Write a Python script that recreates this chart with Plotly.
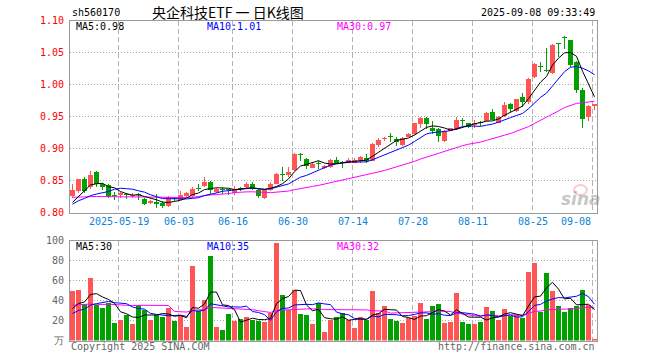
import plotly.graph_objects as go
import pandas as pd
import numpy as np

W, H = 660, 360

# ---------------- data ----------------
dates = [d.strftime("%Y-%m-%d") for d in pd.bdate_range("2025-05-07", "2025-09-08")
         if d.strftime("%Y-%m-%d") != "2025-06-02"]

open_ = [0.8260, 0.8339, 0.8531, 0.8401, 0.8635, 0.8443, 0.8432, 0.8266, 0.8271, 0.8276,
         0.8255, 0.8276, 0.8208, 0.8146, 0.8167, 0.8141, 0.8104, 0.8234, 0.8198, 0.8260,
         0.8260, 0.8370, 0.8417, 0.8479, 0.8328, 0.8359, 0.8354, 0.8297, 0.8380, 0.8391,
         0.8453, 0.8354, 0.8234, 0.8349, 0.8453, 0.8594, 0.8589, 0.8667, 0.8901, 0.8833,
         0.8703, 0.8760, 0.8693, 0.8714, 0.8828, 0.8776, 0.8781, 0.8781, 0.8797, 0.8849,
         0.8807, 0.9057, 0.9141, 0.9177, 0.9146, 0.9057, 0.9182, 0.9224, 0.9380, 0.9484,
         0.9313, 0.9302, 0.9120, 0.9276, 0.9302, 0.9438, 0.9391, 0.9365, 0.9411, 0.9432,
         0.9573, 0.9406, 0.9510, 0.9703, 0.9589, 0.9797, 0.9719, 1.0120, 1.0281, 1.0219,
         1.0172, 1.0635, 1.0740, 1.0693, 1.0344, 0.9911, 0.9495, 0.9667]
high = [0.8443, 0.8531, 0.8547, 0.8641, 0.8646, 0.8458, 0.8443, 0.8313, 0.8328, 0.8302,
        0.8297, 0.8297, 0.8234, 0.8198, 0.8286, 0.8182, 0.8260, 0.8250, 0.8339, 0.8313,
        0.8391, 0.8453, 0.8557, 0.8490, 0.8380, 0.8391, 0.8375, 0.8417, 0.8401, 0.8484,
        0.8469, 0.8365, 0.8365, 0.8469, 0.8615, 0.8714, 0.8714, 0.8922, 0.8922, 0.8844,
        0.8771, 0.8807, 0.8745, 0.8833, 0.8870, 0.8807, 0.8859, 0.8844, 0.8885, 0.8911,
        0.9089, 0.9161, 0.9172, 0.9250, 0.9172, 0.9182, 0.9250, 0.9406, 0.9495, 0.9495,
        0.9422, 0.9313, 0.9286, 0.9328, 0.9495, 0.9484, 0.9406, 0.9443, 0.9422, 0.9573,
        0.9615, 0.9510, 0.9734, 0.9714, 0.9781, 0.9875, 1.0094, 1.0333, 1.0344, 1.0568,
        1.0630, 1.0641, 1.0760, 1.0703, 1.0370, 0.9943, 0.9682, 0.9693]
low = [0.8234, 0.8297, 0.8302, 0.8365, 0.8401, 0.8359, 0.8234, 0.8198, 0.8234, 0.8208,
       0.8234, 0.8193, 0.8115, 0.8130, 0.8078, 0.8078, 0.8089, 0.8182, 0.8188, 0.8245,
       0.8234, 0.8339, 0.8401, 0.8286, 0.8302, 0.8286, 0.8276, 0.8276, 0.8339, 0.8365,
       0.8349, 0.8224, 0.8208, 0.8339, 0.8443, 0.8495, 0.8547, 0.8651, 0.8807, 0.8677,
       0.8688, 0.8677, 0.8677, 0.8703, 0.8755, 0.8693, 0.8766, 0.8766, 0.8781, 0.8781,
       0.8797, 0.9031, 0.9120, 0.9094, 0.9042, 0.9042, 0.9172, 0.9214, 0.9328, 0.9302,
       0.9234, 0.9104, 0.9109, 0.9266, 0.9292, 0.9354, 0.9318, 0.9328, 0.9354, 0.9422,
       0.9443, 0.9391, 0.9495, 0.9578, 0.9578, 0.9641, 0.9703, 1.0109, 1.0188, 1.0203,
       1.0161, 1.0422, 1.0552, 1.0276, 0.9875, 0.9328, 0.9432, 0.9599]
close = [0.8354, 0.8521, 0.8339, 0.8589, 0.8443, 0.8391, 0.8250, 0.8260, 0.8297, 0.8271,
         0.8281, 0.8271, 0.8130, 0.8182, 0.8130, 0.8099, 0.8245, 0.8208, 0.8276, 0.8297,
         0.8375, 0.8365, 0.8479, 0.8349, 0.8365, 0.8354, 0.8349, 0.8375, 0.8375, 0.8453,
         0.8375, 0.8260, 0.8349, 0.8453, 0.8599, 0.8589, 0.8635, 0.8911, 0.8896, 0.8729,
         0.8755, 0.8755, 0.8729, 0.8818, 0.8771, 0.8771, 0.8823, 0.8818, 0.8870, 0.8807,
         0.9078, 0.9130, 0.9161, 0.9172, 0.9094, 0.9161, 0.9234, 0.9391, 0.9484, 0.9380,
         0.9276, 0.9188, 0.9276, 0.9318, 0.9443, 0.9432, 0.9339, 0.9401, 0.9406, 0.9557,
         0.9453, 0.9495, 0.9682, 0.9625, 0.9771, 0.9734, 1.0083, 1.0318, 1.0276, 1.0214,
         1.0620, 1.0630, 1.0734, 1.0307, 0.9911, 0.9458, 0.9667, 0.9693]
volume = [49.3, 50.3, 37, 62.7, 35.3, 32.3, 38, 17.7, 20.3, 25.3,
          16.3, 35.3, 30.3, 20.3, 25.3, 23.7, 32.7, 19.3, 24.7, 13.3,
          74.7, 29.3, 40.3, 84.3, 13.7, 10.3, 26.3, 19.7, 22, 23.3,
          20.3, 19.7, 18.7, 28, 97.7, 45.3, 30.3, 50.3, 26.3, 25.3,
          16.7, 37.3, 8.7, 20.7, 23.3, 27.7, 21, 12.7, 23.3, 21,
          49.3, 28, 34.3, 21.3, 19.3, 17.3, 22.7, 24.7, 38, 21.3,
          34.3, 36.3, 17.3, 18.3, 47.3, 18.3, 16.3, 16.3, 18.3, 33.3,
          29.3, 20.3, 31.3, 25, 25.3, 22.3, 68.3, 77.3, 28.7, 67.3,
          49.3, 34.3, 28.3, 32.3, 34.3, 50.3, 36, 2]

# closes / volumes of the 29 sessions before the window (estimated from the MA lines)
prior_close = [0.835, 0.838, 0.840, 0.836, 0.842, 0.835, 0.830, 0.828, 0.832, 0.826,
               0.830, 0.826, 0.824, 0.822, 0.825, 0.820, 0.823, 0.826, 0.824, 0.820,
               0.798, 0.799, 0.815, 0.818, 0.8206, 0.805, 0.790, 0.814, 0.835]
prior_volume = [30, 32, 55, 50, 30, 28, 30, 35, 28, 30, 25, 30, 22, 28, 30, 28, 199, 30, 25, 24,
                20, 24, 22, 21, 23, 25.3, 29.5, 25.2, 30.7]

price_ticks = [0.80, 0.85, 0.90, 0.95, 1.00, 1.05, 1.10]
vol_ticks = [0, 20, 40, 60, 80, 100]
vol_tick_text = ["万", "20", "40", "60", "80", "100"]
date_labels = ["2025-05-19", "2025-06-03", "2025-06-16", "2025-06-30", "2025-07-14",
               "2025-07-28", "2025-08-11", "2025-08-25", "2025-09-08"]
date_label_text = ["2025-05-19", "06-03", "06-16", "06-30", "07-14", "07-28", "08-11", "08-25", "09-08"]

price_ma_text = ["MA5:0.98", "MA10:1.01", "MA30:0.97"]
vol_ma_text = ["MA5:30", "MA10:35", "MA30:32"]

# ---------------- derived ----------------
n = len(close)
idx = list(range(n))
RED, GREEN = "#ff5555", "#00a000"
MA_COL = ["#000000", "#0000ff", "#ff00ff"]
colors = [RED if c >= o else GREEN for o, c in zip(open_, close)]

def mov_avg(prior, vals, k):
    full = np.array(prior + vals, dtype=float)
    p = len(prior)
    return [float(full[p + i - k + 1:p + i + 1].mean()) for i in range(len(vals))]

pma = [mov_avg(prior_close, close, k) for k in (5, 10, 30)]
vma = [mov_avg(prior_volume, volume, k) for k in (5, 10, 30)]

min_body = 1.0 / 640
body_base = [min(o, c) for o, c in zip(open_, close)]
body_h = [max(abs(c - o), min_body) for o, c in zip(open_, close)]
wick_h = [h - l for h, l in zip(high, low)]

grid_x = [dates.index(d) - 1 / 3 for d in date_labels]

def px(x):
    return x / W

def py(y):
    return 1 - y / H

X0, X1 = -2.5 / 6, (597 - 72.5) / 6

fig = go.Figure()
fig.add_trace(go.Bar(x=idx, y=wick_h, base=low, width=1 / 6, marker=dict(color=colors, line=dict(width=0)),
                     hoverinfo="skip", xaxis="x", yaxis="y"))
fig.add_trace(go.Bar(x=idx, y=body_h, base=body_base, width=5 / 6, marker=dict(color=colors, line=dict(width=0)),
                     hoverinfo="skip", xaxis="x", yaxis="y"))
for k in (2, 1, 0):
    fig.add_trace(go.Scatter(x=idx, y=pma[k], mode="lines", line=dict(color=MA_COL[k], width=1),
                             hoverinfo="skip", xaxis="x", yaxis="y"))
fig.add_trace(go.Bar(x=idx, y=volume, width=5 / 6, marker=dict(color=colors, line=dict(width=0)),
                     hoverinfo="skip", xaxis="x2", yaxis="y2"))
for k in (2, 1, 0):
    fig.add_trace(go.Scatter(x=idx, y=vma[k], mode="lines", line=dict(color=MA_COL[k], width=1),
                             hoverinfo="skip", xaxis="x2", yaxis="y2"))

BORDER = "#9a9a9a"
common_x = dict(domain=[px(70), px(597)], range=[X0, X1], tickvals=grid_x, showticklabels=False,
                showgrid=True, gridcolor="#b4b4b4", griddash="5px,3px", gridwidth=1,
                showline=True, mirror=True, linecolor=BORDER, linewidth=1, zeroline=False,
                ticks="", fixedrange=True)
fig.update_layout(
    width=W, height=H, margin=dict(l=0, r=0, t=0, b=0),
    paper_bgcolor="white", plot_bgcolor="white", showlegend=False,
    barmode="overlay", bargap=0,
    xaxis=dict(anchor="y", **common_x),
    xaxis2=dict(anchor="y2", **common_x),
    yaxis=dict(anchor="x", domain=[py(212.5), py(20.5)], range=[0.80, 1.10],
               tickvals=price_ticks[1:-1], showticklabels=False, showgrid=True,
               gridcolor="#a8a8a8", griddash="1px,2px", showline=True, mirror=True,
               linecolor=BORDER, linewidth=1, zeroline=False, ticks="", fixedrange=True),
    yaxis2=dict(anchor="x2", domain=[py(340.5), py(240.5)], range=[0, 100],
                tickvals=vol_ticks[1:-1], showticklabels=False, showgrid=True,
                gridcolor="#a8a8a8", griddash="1px,2px", showline=True, mirror=True,
                linecolor=BORDER, linewidth=1, zeroline=False, ticks="", fixedrange=True),
)

MONO = "DejaVu Sans Mono, monospace"
ann = []
def text(x, y, s, color="#000", size=10, anchor="left", family=MONO, xref="paper", yref="paper", **kw):
    ann.append(dict(x=x, y=y, xref=xref, yref=yref, text=s, showarrow=False, xanchor=anchor,
                    yanchor="middle", font=dict(family=family, size=size, color=color), **kw))

text(px(70), py(12.5), "sh560170")
text(px(150), py(11.5), "央企科技ETF 一 日K线图", size=14, family="Noto Sans CJK SC")
text(px(597), py(12.5), "2025-09-08 09:33:49", anchor="right")

for s, x, c in zip(price_ma_text, (74, 205, 335), MA_COL):
    text(px(x), py(27), s, color=c)
for s, x, c in zip(vol_ma_text, (74, 205, 335), MA_COL):
    text(px(x), py(246.5), s, color=c)

for v in price_ticks:
    text(px(65.5), v, f"{v:.2f}", color="#ff0000", anchor="right", yref="y")
for v, s in zip(vol_ticks, vol_tick_text):
    text(px(65.5), v, s, color="#666666", anchor="right", yref="y2")

for j, (d, s) in enumerate(zip(date_labels, date_label_text)):
    gx = dates.index(d) - 1 / 3
    text(gx, py(221.5), s, color="#0a84d6", anchor="right" if j == len(date_labels) - 1 else "center", xref="x")

text(px(69), py(346), "Copyright 2025 SINA.COM", color="#666666")
text(px(597), py(346), "http://finance.sina.com.cn", color="#666666", anchor="right")

# sina watermark
text(px(581), py(199), "<b><i>sina</i></b>", color="rgba(150,150,150,0.55)", size=17,
     anchor="center", family="DejaVu Sans")
fig.add_shape(type="circle", xref="paper", yref="paper", x0=px(574), x1=px(587), y0=py(195), y1=py(185),
              line=dict(color="rgba(235,110,110,0.35)", width=2), fillcolor="rgba(0,0,0,0)")

fig.update_layout(annotations=ann)
fig.write_html("out.html", config={"displayModeBar": False, "staticPlot": True},
               post_script="document.body.style.margin='0';document.body.style.overflow='hidden';")
